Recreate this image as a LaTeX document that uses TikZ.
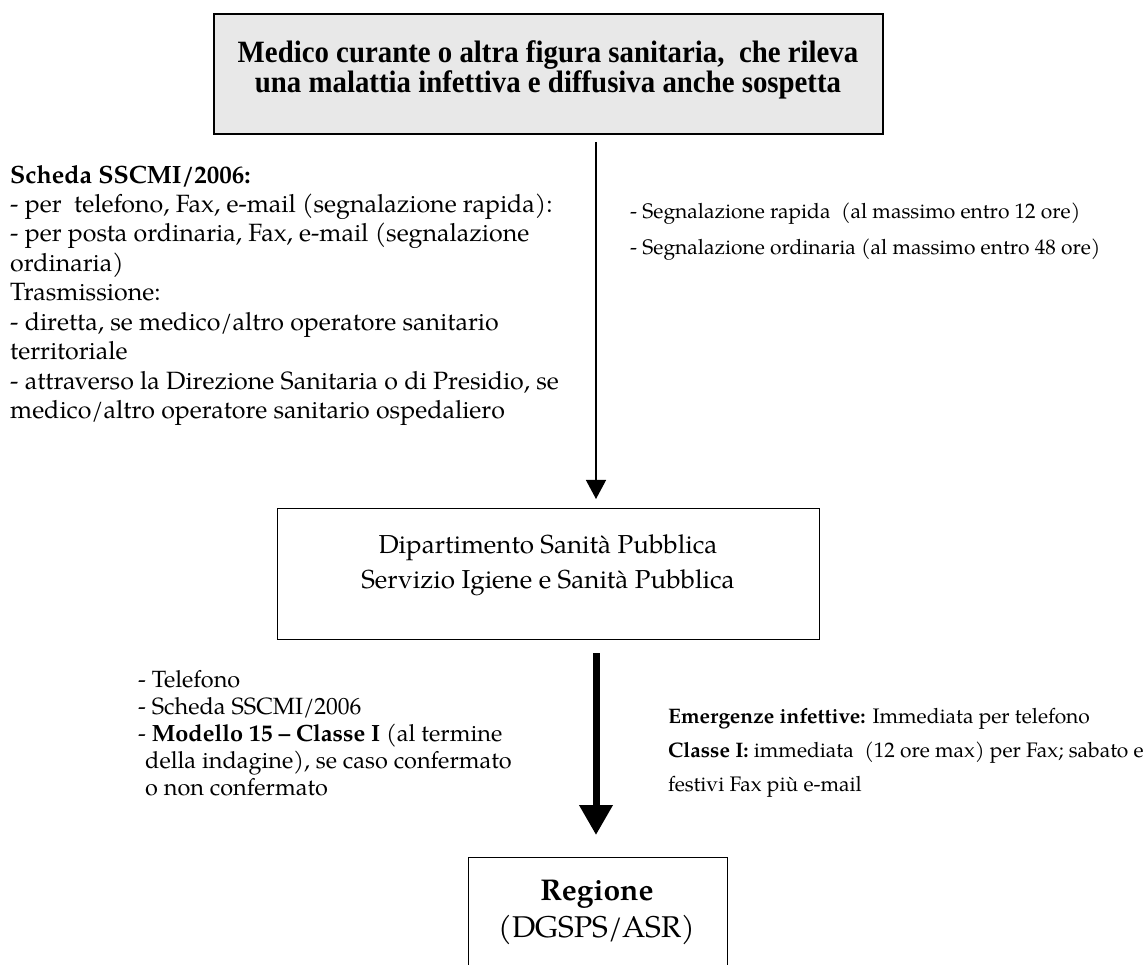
\documentclass[tikz,border=0pt]{standalone}
\usepackage{fontspec}
\setmainfont{texgyrepagella}[Extension=.otf,UprightFont=*-regular,BoldFont=*-bold,ItalicFont=*-italic,BoldItalicFont=*-bolditalic]
\newfontfamily\topfont{Liberation Serif}[FakeStretch=0.93]
\usetikzlibrary{arrows.meta}
\definecolor{boxgray}{HTML}{E8E8E8}
\tikzset{
  mainbox/.style={draw=black, line width=1.2pt, inner sep=0pt},
  txt/.style={inner sep=0pt, align=left},
  thinarrow/.style={line width=1.3pt, -{Triangle[length=19pt,width=20pt]}},
  thickarrow/.style={line width=7pt, -{Triangle[length=30pt,width=32pt]}},
}
\begin{document}
\begin{tikzpicture}[x=1pt,y=-1pt]
\useasboundingbox (0,0) rectangle (1144,965);
\clip (0,0) rectangle (1144,965);
% top box
\node[mainbox, line width=1.6pt, fill=boxgray, minimum width=669pt, minimum height=120pt, anchor=north west] (top) at (213,13) {};
\node[txt, align=center, anchor=base, font=\topfont\bfseries\fontsize{31}{30}\selectfont] (toptxt) at (548,93)
  {Medico curante o altra figura sanitaria,\ \ che rileva\\una malattia infettiva e diffusiva anche sospetta};
% left text
\node[txt, anchor=base west, font=\fontsize{25}{29.5}\selectfont] (left) at (10,419)
  {\textbf{Scheda SSCMI/2006:}\\
   - per\ \ telefono, Fax, e-mail (segnalazione rapida):\\
   - per posta ordinaria, Fax, e-mail (segnalazione\\
   ordinaria)\\
   Trasmissione:\\
   - diretta, se medico/altro operatore sanitario\\
   territoriale\\
   - attraverso la Direzione Sanitaria o di Presidio, se\\
   medico/altro operatore sanitario ospedaliero};
% right text
\node[txt, anchor=base west, font=\fontsize{21}{36}\selectfont] (right) at (630,255)
  {- Segnalazione rapida\ \ (al massimo entro 12 ore)\\
   - Segnalazione ordinaria (al massimo entro 48 ore)};
% middle box
\node[mainbox, minimum width=542pt, minimum height=131pt, anchor=north west] (mid) at (277,508) {};
\node[txt, align=center, anchor=base, font=\fontsize{26}{35}\selectfont] (midtxt) at (548,588)
  {Dipartimento Sanità Pubblica\\Servizio Igiene e Sanità Pubblica};
% bottom left list
\node[txt, anchor=base west, font=\fontsize{23.5}{27}\selectfont] (blist) at (138,795)
  {- Telefono\\
   - Scheda SSCMI/2006\\
   - \textbf{Modello 15 -- Classe I} (al termine\\
   \hspace*{7pt}della indagine), se caso confermato\\
   \hspace*{7pt}o non confermato};
% bottom right text
\node[txt, anchor=base west, font=\fontsize{21}{34}\selectfont] (bright) at (668,791)
  {\textbf{Emergenze infettive:} Immediata per telefono\\
   \textbf{Classe I:} immediata\ \ (12 ore max) per Fax; sabato e\\
   festivi Fax più e-mail};
% regione box
\node[mainbox, minimum width=259pt, minimum height=140pt, anchor=north west] (reg) at (468,857) {};
\node[txt, align=center, anchor=base, font=\fontsize{30}{37}\selectfont] (regtxt) at (597,937)
  {\textbf{Regione}\\(DGSPS/ASR)};
% arrows
\coordinate (a1s) at (596,142);
\coordinate (a2s) at (596,653);
\draw[thinarrow] (a1s) -- ([yshift=9pt]mid.north -| a1s);
\draw[thickarrow] (a2s) -- ([yshift=22pt]reg.north -| a2s);
\end{tikzpicture}
\end{document}
